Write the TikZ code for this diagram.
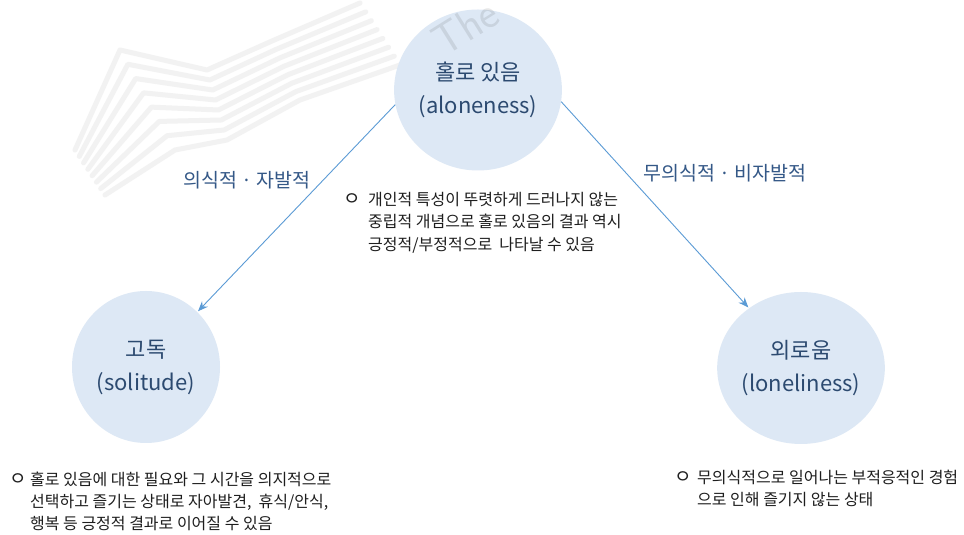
\documentclass[tikz,border=0pt]{standalone}
\usepackage{fontspec}
\setmainfont{Noto Sans CJK KR}
\usetikzlibrary{arrows.meta,shapes.geometric}
\definecolor{circfill}{HTML}{DDE8F5}
\definecolor{circtext}{HTML}{2C4A70}
\definecolor{labtext}{HTML}{345887}
\definecolor{arrowcol}{HTML}{5B9BD5}
\definecolor{bodytext}{HTML}{1E1E1E}
\tikzset{
  concept/.style={ellipse, fill=circfill, draw=none, inner sep=0pt,
    align=center, text=circtext, font=\fontsize{22}{33}\selectfont},
  relabel/.style={text=labtext, font=\fontsize{19.5}{22}\selectfont, inner sep=0pt},
  bodyline/.style={anchor=base west, text=bodytext, inner sep=0pt,
    font=\fontsize{16}{20}\selectfont},
  bulletmark/.style={anchor=center, text=bodytext, inner sep=0pt,
    font=\fontsize{19}{20}\selectfont},
  flow/.style={draw=arrowcol, line width=0.9pt,
    -{Stealth[length=10pt,width=8pt]}, shorten >=1pt},
  wmark/.style={draw=black!5, line width=5pt, line join=round, line cap=round}
}
\begin{document}
\begin{tikzpicture}[x=1pt,y=1pt]
\useasboundingbox (0,0) rectangle (964,535);
\fill[white] (0,0) rectangle (964,535);
% watermark stripes
\foreach \t in {0,0.1429,0.2857,0.4286,0.5714,0.7143,0.8571,1}{
  \draw[wmark] ({75+30*\t},{385-45*\t}) -- ({120+55*\t},{485-100*\t})
    -- ({207+20*\t},{465-70*\t}) -- ({272+28*\t},{494-59*\t})
    -- ({360+40*\t},{532-62*\t});
}
% concepts
\node[concept, minimum width=150pt, minimum height=161pt] (alone) at (478,445)
  {홀로 있음\\(aloneness)};
\node[concept, minimum width=148pt, minimum height=152pt] (soli) at (146,168)
  {고독\\(solitude)};
\node[concept, minimum width=149pt, minimum height=152pt] (lone) at (801,167)
  {외로움\\(loneliness)};
% watermark text
\node[rotate=32, text=black, opacity=0.09, font=\fontsize{44}{44}\selectfont\sffamily, inner sep=0pt] (wm) at (465,508) {The};
% connectors
\draw[flow] (alone.190) -- (soli.47);
\draw[flow] (alone.352) -- (lone.131);
% labels
\node[relabel] (lab1) at (247,355) {의식적 · 자발적};
\node[relabel] (lab2) at (725,362) {무의식적 · 비자발적};
% middle note
\node[bulletmark] (b1) at (352,335) {ㅇ};
\node[bodyline] (m1) at (368,329) {개인적 특성이 뚜렷하게 드러나지 않는};
\node[bodyline] (m2) at (368,307) {중립적 개념으로 홀로 있음의 결과 역시};
\node[bodyline] (m3) at (368,284) {긍정적/부정적으로 \ 나타날 수 있음};
% left note
\node[bulletmark] (b2) at (18,55) {ㅇ};
\node[bodyline] (l1) at (30,49) {홀로 있음에 대한 필요와 그 시간을 의지적으로};
\node[bodyline] (l2) at (30,27) {선택하고 즐기는 상태로 자아발견, \ 휴식/안식,};
\node[bodyline] (l3) at (30,5) {행복 등 긍정적 결과로 이어질 수 있음};
% right note
\node[bulletmark] (b3) at (683,57) {ㅇ};
\node[bodyline] (r1) at (697,51) {무의식적으로 일어나는 부적응적인 경험};
\node[bodyline] (r2) at (697,29) {으로 인해 즐기지 않는 상태};
\end{tikzpicture}
\end{document}
